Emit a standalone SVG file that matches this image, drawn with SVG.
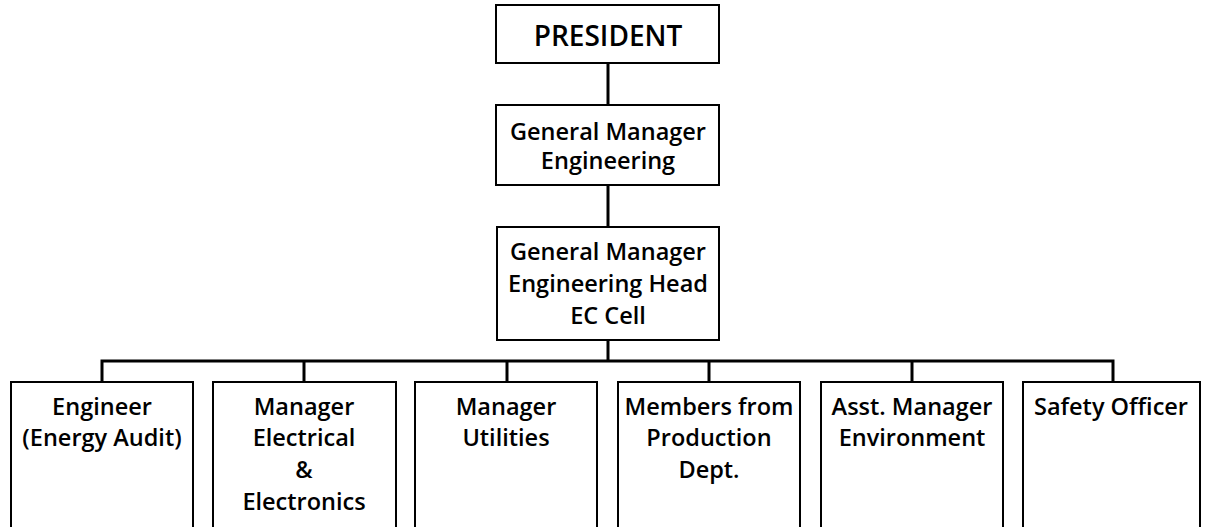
<svg xmlns="http://www.w3.org/2000/svg" width="1208" height="527" viewBox="0 0 1208 527">
<style>
.box{fill:#fff;stroke:#000;stroke-width:2}
.t{font-family:"Open Sans","Liberation Sans",sans-serif;font-weight:600;font-size:23.5px;text-anchor:middle;fill:#000}
.tp{font-size:28px}
.c{stroke:#000;stroke-width:3;fill:none}
</style>
<rect width="1208" height="527" fill="#fff"/>
<g id="connectors">
<line class="c" x1="608" y1="63" x2="608" y2="105"/>
<line class="c" x1="608" y1="185" x2="608" y2="227"/>
<line class="c" x1="608" y1="340" x2="608" y2="361"/>
<polyline class="c" points="102,382 102,361 1113,361 1113,382"/>
<line class="c" x1="304" y1="361" x2="304" y2="382"/>
<line class="c" x1="507" y1="361" x2="507" y2="382"/>
<line class="c" x1="709" y1="361" x2="709" y2="382"/>
<line class="c" x1="912" y1="361" x2="912" y2="382"/>
</g>
<g id="president">
<rect class="box" x="496" y="5" width="223" height="58"/>
<text class="t tp" x="608" y="46">PRESIDENT</text>
</g>
<g id="gm-engineering">
<rect class="box" x="496" y="105" width="223" height="80"/>
<text class="t" x="608" y="140">General Manager</text>
<text class="t" x="608" y="169">Engineering</text>
</g>
<g id="gm-head">
<rect class="box" x="497" y="227" width="222" height="113"/>
<text class="t" x="608" y="260">General Manager</text>
<text class="t" x="608" y="292">Engineering Head</text>
<text class="t" x="608" y="324">EC Cell</text>
</g>
<g id="engineer">
<rect class="box" x="11" y="382" width="182" height="146"/>
<text class="t" x="102" y="415">Engineer</text>
<text class="t" x="102" y="446">(Energy Audit)</text>
</g>
<g id="manager-electrical">
<rect class="box" x="213" y="382" width="183" height="146"/>
<text class="t" x="304" y="415">Manager</text>
<text class="t" x="304" y="446">Electrical</text>
<text class="t" x="304" y="478">&amp;</text>
<text class="t" x="304" y="510">Electronics</text>
</g>
<g id="manager-utilities">
<rect class="box" x="415" y="382" width="182" height="146"/>
<text class="t" x="506" y="415">Manager</text>
<text class="t" x="506" y="446">Utilities</text>
</g>
<g id="members-production">
<rect class="box" x="618" y="382" width="182" height="146"/>
<text class="t" x="709" y="415">Members from</text>
<text class="t" x="709" y="446">Production</text>
<text class="t" x="709" y="478">Dept.</text>
</g>
<g id="asst-manager">
<rect class="box" x="821" y="382" width="182" height="146"/>
<text class="t" x="912" y="415">Asst. Manager</text>
<text class="t" x="912" y="446">Environment</text>
</g>
<g id="safety-officer">
<rect class="box" x="1023" y="382" width="177" height="146"/>
<text class="t" x="1111" y="415">Safety Officer</text>
</g>
</svg>
